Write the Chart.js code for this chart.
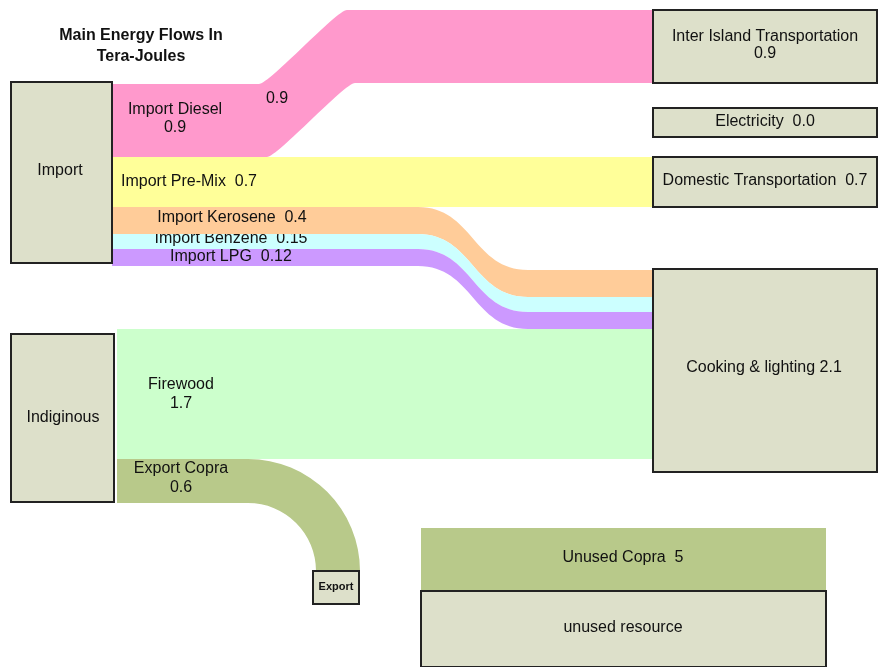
<!DOCTYPE html>
<html>
<head>
<meta charset="utf-8">
<script src="https://cdn.jsdelivr.net/npm/chart.js@4.4.1/dist/chart.umd.min.js"></script>
<style>
  html, body { margin: 0; padding: 0; background: #fff; overflow: hidden; }
  canvas { display: block; }
</style>
</head>
<body>
<canvas id="sankey" width="881" height="667"></canvas>
<script>
// energy data, tera-joules
const chartTitle = ["Main Energy Flows In", "Tera-Joules"];
const nodeNames = ["Import", "Indiginous", "Inter Island Transportation", "Electricity",
  "Domestic Transportation", "Cooking & lighting", "Export", "unused resource"];
const nodeValues = [null, null, 0.9, 0.0, 0.7, 2.1, null, null];
const flowNames = ["Import Diesel", "Import Pre-Mix", "Import Kerosene", "Import Benzene",
  "Import LPG", "Firewood", "Export Copra", "Unused Copra"];
const flowValues = [0.9, 0.7, 0.4, 0.15, 0.12, 1.7, 0.6, 5];
const flowSource = [0, 0, 0, 0, 0, 1, 1, -1];
const flowTarget = [2, 4, 5, 5, 5, 5, 6, 7];

// layout (in axis units, the axes span the whole canvas)
const nodeBox = [
  [11, 82, 112, 263], [11, 334, 114, 502], [653, 10, 877, 83], [653, 108, 877, 137],
  [653, 157, 877, 207], [653, 269, 877, 472], [313, 571, 359, 604], [421, 591, 826, 667]
];
const nodeLabelPos = [[60, 171], [63, 418], [765, 37], [765, 122], [765, 181], [764, 368], [336, 587], [623, 628]];
const nodeLabelSep = [null, null, "\n", "  ", "  ", " ", null, null];
const srcPort = { 0: 84, 1: 329 };           // where bands leave a node
const tgtPort = { 2: 10, 4: 157, 5: 270 };   // where bands enter a node
const flowWidth = [73, 50, 27, 15, 17, 130, 44, 63];
const flowStartX = [112, 112, 112, 112, 112, 117, 117, null];
const flowBend = [[259, 347, 8, 0.12], null, [418, 528, 0, 0.5], [418, 528, 0, 0.5], [418, 528, 0, 0.5], null, [248], null];
const flowColors = ["#ff99cc", "#ffff99", "#ffcc99", "#ccffff", "#cc99ff", "#ccffcc", "#b8c98a", "#b8c98a"];
const flowLabelPos = [[175, 110], [189, 182], [232, 218], [231, 239], [231, 257], [181, 385], [181, 469], [623, 558]];
const flowLabelSep = ["\n", "  ", "  ", "  ", "  ", "\n", "\n", "  "];
const extraLabels = [["0.9", 277, 99]];

const fmt = v => (v === 0 ? "0.0" : String(v));
const FONT = "'Liberation Sans', Arial, sans-serif";

const sankeyPlugin = {
  id: "sankeyFlows",
  afterDatasetsDraw(chart) {
    const ctx = chart.ctx;
    const xs = chart.scales.x, ys = chart.scales.y;
    const px = v => xs.getPixelForValue(v);
    const py = v => ys.getPixelForValue(v);
    const srcUsed = {}, tgtUsed = {};
    const bandTop = [];

    ctx.save();
    // bands
    flowValues.forEach((val, i) => {
      const s = flowSource[i], t = flowTarget[i], w = flowWidth[i];
      const tb = nodeBox[t];
      ctx.fillStyle = flowColors[i];
      ctx.beginPath();
      if (s < 0) {
        // band dropping straight onto the node
        bandTop[i] = tb[1] - w;
        ctx.rect(px(tb[0]), py(tb[1] - w), px(tb[2]) - px(tb[0]), py(tb[1]) - py(tb[1] - w));
        ctx.fill();
        return;
      }
      const y0 = srcPort[s] + (srcUsed[s] || 0);
      srcUsed[s] = (srcUsed[s] || 0) + w;
      bandTop[i] = y0;
      const x0 = flowStartX[i];
      const bend = flowBend[i];
      if (t === 6) {
        // turn down into the export box
        const cx = bend[0], cy = tb[1];
        const rOut = py(cy) - py(y0), rIn = py(cy) - py(y0 + w);
        ctx.moveTo(px(x0), py(y0));
        ctx.lineTo(px(cx), py(y0));
        ctx.arc(px(cx), py(cy), rOut, -Math.PI / 2, 0);
        ctx.lineTo(px(cx) + rIn, py(cy));
        ctx.arc(px(cx), py(cy), rIn, 0, -Math.PI / 2, true);
        ctx.lineTo(px(x0), py(y0 + w));
        ctx.closePath();
        ctx.fill();
        return;
      }
      const t0 = (tgtPort[t] !== undefined ? tgtPort[t] : tb[1]) + (tgtUsed[t] || 0);
      tgtUsed[t] = (tgtUsed[t] || 0) + w;
      const x1 = tb[0];
      if (!bend) {
        ctx.rect(px(x0), py(y0), px(x1) - px(x0), py(y0 + w) - py(y0));
        ctx.fill();
        return;
      }
      const [b0, b1, shift, k] = bend;
      const c = (b1 - b0) * k;
      ctx.moveTo(px(x0), py(y0));
      ctx.lineTo(px(b0), py(y0));
      ctx.bezierCurveTo(px(b0 + c), py(y0), px(b1 - c), py(t0), px(b1), py(t0));
      ctx.lineTo(px(x1), py(t0));
      ctx.lineTo(px(x1), py(t0 + w));
      ctx.lineTo(px(b1 + shift), py(t0 + w));
      ctx.bezierCurveTo(px(b1 + shift - c), py(t0 + w), px(b0 + shift + c), py(y0 + w), px(b0 + shift), py(y0 + w));
      ctx.lineTo(px(x0), py(y0 + w));
      ctx.closePath();
      ctx.fill();
    });

    // nodes
    ctx.lineWidth = 2;
    ctx.strokeStyle = "#222";
    ctx.fillStyle = "#dde0ca";
    nodeBox.forEach(b => {
      ctx.fillRect(px(b[0]), py(b[1]), px(b[2]) - px(b[0]), py(b[3]) - py(b[1]));
      ctx.strokeRect(px(b[0]), py(b[1]), px(b[2]) - px(b[0]), py(b[3]) - py(b[1]));
    });

    // text
    ctx.fillStyle = "#111";
    ctx.textAlign = "center";
    ctx.textBaseline = "middle";
    const drawText = (str, x, y, lineH) => {
      str.split("\n").forEach((line, j) => ctx.fillText(line, px(x), py(y + j * lineH)));
    };
    ctx.font = "16px " + FONT;
    flowNames.forEach((name, i) => {
      const [x, y] = flowLabelPos[i];
      // labels sit under the band above them
      ctx.save();
      ctx.beginPath();
      ctx.rect(0, py(bandTop[i]), chart.width, chart.height);
      ctx.clip();
      drawText(name + flowLabelSep[i] + fmt(flowValues[i]), x, y, i === 0 ? 18 : 19);
      ctx.restore();
    });
    extraLabels.forEach(([str, x, y]) => drawText(str, x, y, 18));
    nodeNames.forEach((name, i) => {
      const [x, y] = nodeLabelPos[i];
      const str = nodeValues[i] === null ? name : name + nodeLabelSep[i] + fmt(nodeValues[i]);
      ctx.font = i === 6 ? "bold 11px " + FONT : "16px " + FONT;
      drawText(str, x, y, 17);
    });
    ctx.font = "bold 16px " + FONT;
    drawText(chartTitle.join("\n"), 141, 36, 21);
    ctx.restore();
  }
};

new Chart(document.getElementById("sankey"), {
  type: "scatter",
  data: { datasets: [{ data: [] }] },
  options: {
    responsive: false,
    animation: false,
    layout: { padding: 0 },
    plugins: { legend: { display: false }, tooltip: { enabled: false } },
    scales: {
      x: { type: "linear", min: 0, max: 881, display: false },
      y: { type: "linear", min: 0, max: 667, reverse: true, display: false }
    }
  },
  plugins: [sankeyPlugin]
});
</script>
</body>
</html>
